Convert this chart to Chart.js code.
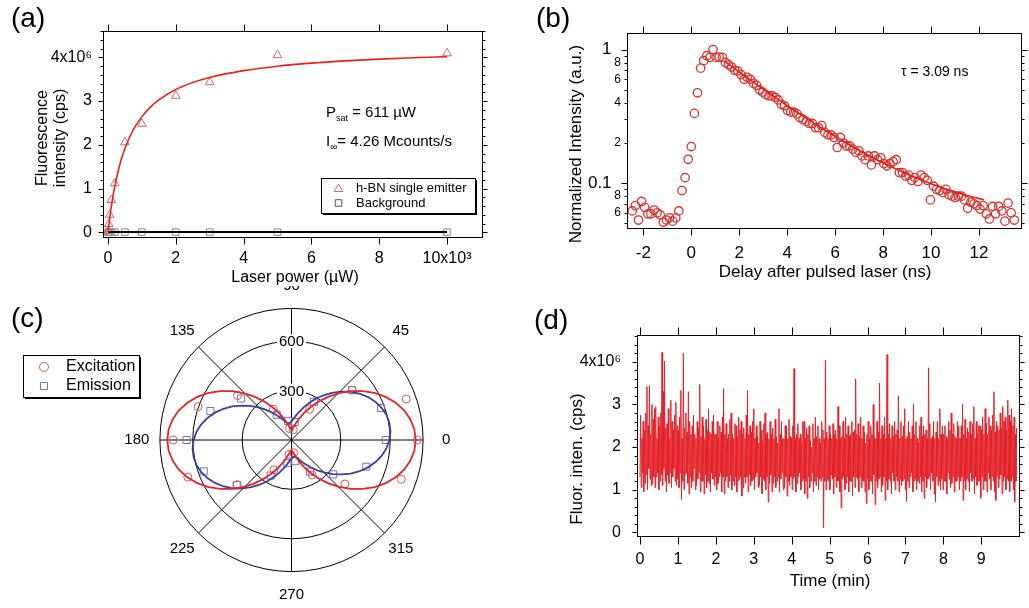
<!DOCTYPE html>
<html>
<head>
<meta charset="utf-8">
<script src="https://cdn.jsdelivr.net/npm/chart.js@4.4.1/dist/chart.umd.min.js"></script>
<style>
  html, body { margin: 0; padding: 0; background: #fff; }
  #wrap { position: relative; width: 1029px; height: 608px; overflow: hidden; }
  #wrap canvas { position: absolute; left: 0; top: 0; }
</style>
</head>
<body>
<div id="wrap">
  <canvas id="polarCanvas" width="1029" height="608"></canvas>
  <canvas id="satCanvas" width="1029" height="608"></canvas>
  <canvas id="decayCanvas" width="1029" height="608"></canvas>
  <canvas id="traceCanvas" width="1029" height="608"></canvas>
</div>
<script>
// ---- (a) saturation curve, counts in 10^6 cps ----
const emitterPower = [0, 20, 50, 100, 200, 500, 1000, 2000, 3000, 5000, 10000];
const emitterMcps = [0.03, 0.19, 0.40, 0.74, 1.12, 2.06, 2.48, 3.12, 3.43, 4.05, 4.09];
const backgroundPower = [0, 20, 50, 100, 200, 500, 1000, 2000, 3000, 5000, 10000];
const backgroundMcps = [0, 0, 0.005, 0.005, 0.005, 0.005, 0.005, 0.005, 0.005, 0.005, 0.005];
const satFitPower = [0, 10, 25, 50, 75, 100, 150, 200, 300, 400, 500, 650, 800, 1000, 1250, 1500,
  2000, 2500, 3000, 4000, 5000, 6000, 7000, 8000, 9000, 10000];
const pSat = 611;     // µW
const iInf = 4.26;    // Mcounts/s
const satXTicks = [0, 2000, 4000, 6000, 8000, 10000];
const satYTicks = [0, 1, 2, 3, 4];

// ---- (b) lifetime decay ----
const decayStart = -2.46;   // ns, first bin
const decayStep = 0.1295;   // ns per bin
const decayCounts = [
  0.062, 0.068, 0.053, 0.073, 0.066, 0.059, 0.059, 0.063, 0.060, 0.058,
  0.051, 0.053, 0.055, 0.052, 0.055, 0.062, 0.088, 0.110, 0.151, 0.188,
  0.333, 0.475, 0.726, 0.826, 0.900, 0.874, 1.000, 0.874, 0.880, 0.874,
  0.80, 0.77, 0.74, 0.70, 0.69, 0.65, 0.60, 0.62, 0.60, 0.56,
  0.54, 0.50, 0.48, 0.46, 0.45, 0.45, 0.44, 0.42, 0.39, 0.38,
  0.35, 0.34, 0.34, 0.33, 0.31, 0.30, 0.29, 0.28, 0.28, 0.26,
  0.26, 0.27, 0.24, 0.23, 0.23, 0.22, 0.185, 0.22, 0.20, 0.19,
  0.19, 0.18, 0.17, 0.175, 0.16, 0.15, 0.16, 0.137, 0.16, 0.15,
  0.155, 0.14, 0.135, 0.14, 0.145, 0.15, 0.12, 0.12, 0.113, 0.115,
  0.105, 0.11, 0.103, 0.115, 0.11, 0.105, 0.075, 0.095, 0.09, 0.088,
  0.085, 0.09, 0.082, 0.08, 0.078, 0.08, 0.08, 0.075, 0.065, 0.072,
  0.07, 0.068, 0.064, 0.068, 0.059, 0.054, 0.067, 0.059, 0.067, 0.062,
  0.052, 0.071, 0.060, 0.053
];
const decayFitTimes = [1.4, 1.8, 2.2, 2.6, 3, 3.5, 4, 4.5, 5, 5.5, 6, 6.5, 7, 7.5, 8, 8.5,
  9, 9.5, 10, 10.5, 11, 11.5, 12, 12.2];
const tau = 3.09;          // ns
const decayAmp = 1.2;
const decayFloor = 0.052;
const decayXTicks = [-2, 0, 2, 4, 6, 8, 10, 12];
const decayYMajor = [0.1, 1];
const decayYMinor = [0.05, 0.06, 0.07, 0.08, 0.09, 0.2, 0.3, 0.4, 0.5, 0.6, 0.7, 0.8, 0.9];
const decayYLabels = { 0.06: '6', 0.08: '8', 0.1: '0.1  ', 0.2: '2', 0.4: '4', 0.6: '6', 0.8: '8', 1: '1  ' };

// ---- (c) polarization, angle in degrees ----
const polAngles = [0, 20, 40, 60, 80, 100, 120, 140, 160, 180, 200, 220, 240, 260, 280, 300, 320, 340];
const excitationR = [765, 742, 480, 220, 64, 72, 220, 428, 604, 719, 671, 430, 213, 90, 80, 250, 424, 710];
const emissionR = [573, 579, 481, 273, 113, 120, 180, 400, 525, 638, 568, 435, 254, 145, 133, 226, 331, 484];
const polFitStep = 5;
const excitationFitR = [
  755, 750, 734, 709, 674, 632, 583, 528, 470, 410, 350, 292, 238, 188, 146, 111, 86, 70,
  65, 70, 86, 111, 146, 188, 238, 292, 350, 410, 470, 528, 583, 632, 674, 709, 734, 750,
  755, 750, 734, 709, 674, 632, 583, 528, 470, 410, 350, 292, 238, 188, 146, 111, 86, 70,
  65, 70, 86, 111, 146, 188, 238, 292, 350, 410, 470, 528, 583, 632, 674, 709, 734, 750
];
const emissionFitR = [
  595, 604, 604, 598, 583, 562, 535, 502, 465, 424, 381, 338, 295, 253, 215, 181, 153, 130,
  115, 106, 106, 112, 127, 148, 175, 208, 245, 286, 329, 372, 416, 457, 495, 529, 557, 580,
  595, 604, 604, 598, 583, 562, 535, 502, 465, 424, 381, 338, 295, 253, 215, 181, 153, 130,
  115, 106, 106, 112, 127, 148, 175, 208, 245, 286, 329, 372, 416, 457, 495, 529, 557, 580
];
const polRings = [300, 600, 800];
const polRingLabels = [300, 600];
const polSpokes = [0, 45, 90, 135, 180, 225, 270, 315];
const polLabelR = 940;

// ---- (d) intensity trace, 10^6 cps, one row per minute ----
const traceStep = 0.01658;   // min per bin
const traceMcps = [
  1.3,2.75, 1.05,2.2, 1.4,2.6, 0.95,2.4, 1.15,2.8, 1.35,3.42, 1.0,2.5, 1.5,3.44, 1.25,2.3, 1.1,3.0,
  1.15,2.65, 1.3,2.9, 1.05,2.95, 1.3,2.2, 1.4,2.7, 1.0,2.5, 1.2,2.8, 1.35,4.22, 1.1,3.3, 1.5,4.02,
  1.2,2.45, 0.95,2.55, 1.35,2.9, 1.15,2.2, 1.4,3.1, 1.05,2.6, 1.3,2.4, 1.5,2.75, 1.2,3.05, 1.1,2.5,

  1.25,2.4, 1.05,2.7, 1.4,3.33, 0.77,2.2, 1.2,4.2, 1.0,2.45, 1.35,2.8, 1.4,2.35, 1.15,3.3, 0.9,2.6,
  1.3,2.3, 1.05,2.5, 1.2,2.75, 1.5,2.3, 1.0,2.2, 1.1,2.6, 1.25,2.45, 1.4,3.47, 0.95,2.25, 1.2,2.7,
  1.2,2.5, 0.9,2.2, 1.35,2.65, 1.05,2.4, 1.2,2.9, 1.15,2.35, 0.95,2.3, 1.4,2.6, 1.25,2.75, 1.1,2.3,

  1.3,2.3, 1.0,2.6, 1.15,2.2, 1.3,2.5, 1.4,2.35, 0.95,2.7, 1.3,3.37, 0.9,2.3, 1.2,2.55, 1.3,2.2,
  1.05,2.3, 1.2,2.65, 1.35,2.8, 1.0,2.3, 1.2,2.2, 1.1,2.55, 1.3,2.5, 0.95,2.25, 1.2,2.7, 1.25,2.4,
  1.3,2.6, 0.85,2.3, 1.05,2.45, 1.3,2.2, 1.15,2.75, 1.3,3.33, 0.95,2.3, 1.35,2.5, 1.1,2.35, 1.2,2.6,

  1.25,2.9, 1.0,2.2, 1.3,2.5, 1.4,2.25, 1.05,2.1, 1.1,2.6, 1.3,2.4, 0.9,2.15, 1.25,2.55, 1.2,2.8,
  1.0,2.3, 1.3,2.35, 0.71,2.2, 1.15,2.6, 1.35,2.3, 0.95,2.45, 1.15,2.2, 1.3,2.65, 1.05,2.25, 1.2,2.1,
  1.3,2.9, 0.95,2.3, 1.25,2.6, 1.4,2.2, 1.0,2.2, 1.05,2.5, 1.3,2.5, 0.85,2.2, 1.2,2.65, 1.1,2.25,

  1.3,2.2, 1.0,2.5, 1.25,3.84, 1.3,2.2, 0.95,2.3, 1.15,2.55, 1.3,2.2, 1.4,2.3, 1.0,2.1, 1.2,2.6,
  1.25,2.6, 0.9,2.2, 1.2,2.45, 0.8,2.3, 1.3,2.5, 1.05,2.15, 1.2,2.0, 1.4,2.55, 0.95,2.2, 1.2,2.7,
  1.1,2.25, 1.3,2.5, 1.0,2.2, 1.25,2.1, 1.2,2.6, 1.3,2.4, 0.11,2.2, 1.2,4.04, 1.0,2.35, 1.25,2.2,

  1.2,2.5, 1.0,2.3, 1.35,2.2, 1.25,2.55, 0.9,2.3, 1.3,2.4, 1.05,2.2, 1.2,2.95, 1.2,2.5, 0.95,2.2,
  0.57,2.25, 1.25,2.6, 1.3,2.2, 1.0,2.7, 1.15,2.3, 1.3,2.5, 0.95,2.25, 1.2,2.3, 1.2,2.6, 0.85,2.35,
  1.3,2.4, 1.05,3.6, 1.3,2.3, 1.25,2.55, 0.95,2.25, 1.3,2.7, 1.05,2.2, 1.2,2.5, 1.2,2.35, 0.95,2.1,

  0.68,2.3, 1.25,2.6, 1.0,2.2, 1.2,2.5, 1.2,2.3, 0.9,3.0, 1.35,2.25, 0.65,2.2, 1.2,2.6, 1.05,2.35,
  1.25,3.5, 1.3,2.2, 0.95,2.5, 1.1,2.3, 1.3,2.7, 0.75,2.2, 1.2,4.17, 1.0,2.3, 1.25,2.55, 1.2,2.2,
  0.9,2.5, 1.4,2.25, 1.2,2.6, 1.0,2.3, 1.3,2.4, 1.2,3.2, 0.95,2.2, 1.25,2.6, 1.1,2.25, 1.2,2.5,

  1.25,2.9, 1.0,2.2, 0.72,2.25, 1.2,2.6, 1.05,2.35, 1.3,2.2, 1.4,2.5, 0.95,3.0, 1.2,2.3, 1.25,2.6,
  1.0,2.2, 1.2,2.1, 1.15,2.5, 1.3,2.7, 0.95,2.25, 1.2,2.5, 0.8,2.3, 1.3,2.4, 1.05,2.2, 1.25,3.86,
  1.3,2.55, 1.0,2.2, 1.4,2.25, 1.2,2.6, 0.9,2.2, 0.71,2.35, 1.3,2.6, 1.1,2.2, 1.2,2.9, 1.0,2.3,

  1.25,2.5, 1.0,2.3, 1.2,2.5, 1.2,2.25, 0.9,2.2, 1.4,2.6, 1.25,2.4, 1.05,2.8, 1.15,2.3, 1.3,2.55,
  0.95,2.25, 1.2,2.2, 1.2,2.6, 1.3,2.5, 1.0,2.2, 1.2,2.5, 1.3,3.0, 0.75,2.3, 1.2,2.65, 1.0,2.2,
  1.25,2.45, 1.2,2.35, 0.95,2.6, 1.4,2.3, 1.2,2.55, 1.25,2.95, 0.9,2.2, 1.3,2.6, 1.1,2.3, 1.2,2.5,

  1.2,2.5, 0.8,2.4, 1.3,2.7, 1.0,2.3, 1.2,2.9, 1.2,2.55, 0.95,2.3, 1.4,2.7, 1.25,2.5, 1.0,2.4,
  1.3,2.75, 1.2,3.3, 0.95,2.35, 0.75,2.6, 1.3,2.5, 1.05,2.4, 1.25,2.8, 1.35,2.45, 0.9,2.95, 1.2,2.6,
  1.3,2.7, 1.0,2.4, 1.25,3.1, 1.2,2.75, 0.95,2.6, 1.2,2.9, 1.3,2.5, 1.0,2.7, 0.71,2.3, 1.2,2.45
];
const traceXTicks = [0, 1, 2, 3, 4, 5, 6, 7, 8, 9];
const traceYTicks = [0, 1, 2, 3, 4];

// ---------------------------------------------------------------
const FONT = '"Liberation Sans", Arial, Helvetica, sans-serif';
Chart.defaults.font.family = FONT;
Chart.defaults.color = '#000';
const W = 1029, H = 608;
const AXIS_W = 60, AXIS_H = 40;

function fixSize(px) {
  return scale => { if (scale.isHorizontal()) scale.height = px; else scale.width = px; };
}
function setTicks(values) {
  return scale => { scale.ticks = values.map(v => ({ value: v })); };
}
function frameLayout(f) {
  return { padding: { left: f.left - AXIS_W, top: f.top, right: W - f.right, bottom: H - f.bottom - AXIS_H } };
}
function minorSteps(from, to, step, skip) {
  const out = [];
  for (let v = from; v <= to + 1e-9; v += step) {
    const r = Math.round(v * 1000) / 1000;
    if (!skip.includes(r)) out.push(r);
  }
  return out;
}
function marks(major, majorLen, minor, minorLen) {
  return major.map(v => [v, majorLen]).concat((minor || []).map(v => [v, minorLen]));
}

// box frame plus outward ticks on all four sides
function frameTicks(spec) {
  return {
    id: 'frameTicks',
    afterDraw(chart) {
      const { ctx, chartArea: a } = chart;
      const xs = chart.scales.x, ys = chart.scales.y;
      ctx.save();
      ctx.strokeStyle = '#000';
      ctx.lineWidth = 1;
      const l = Math.round(a.left) + 0.5, t = Math.round(a.top) + 0.5;
      const r = Math.round(a.right) + 0.5, b = Math.round(a.bottom) + 0.5;
      ctx.strokeRect(l, t, r - l, b - t);
      ctx.beginPath();
      spec.x.forEach(([v, len]) => {
        const p = Math.round(xs.getPixelForValue(v)) + 0.5;
        ctx.moveTo(p, b); ctx.lineTo(p, b + len);
        ctx.moveTo(p, t); ctx.lineTo(p, t - len);
      });
      spec.y.forEach(([v, len]) => {
        const p = Math.round(ys.getPixelForValue(v)) + 0.5;
        ctx.moveTo(l, p); ctx.lineTo(l - len, p);
        ctx.moveTo(r, p); ctx.lineTo(r + len, p);
      });
      ctx.stroke();
      ctx.restore();
    }
  };
}

function text(ctx, s, x, y, size, align, rotate) {
  ctx.save();
  ctx.font = size + 'px ' + FONT;
  ctx.fillStyle = '#000';
  ctx.textAlign = align || 'left';
  ctx.textBaseline = 'middle';
  ctx.translate(x, y);
  if (rotate) ctx.rotate(-Math.PI / 2);
  ctx.fillText(s, 0, 0);
  ctx.restore();
}
// runs of [string, size, baseline shift]
function richText(ctx, x, y, parts) {
  ctx.save();
  ctx.fillStyle = '#000';
  ctx.textAlign = 'left';
  ctx.textBaseline = 'alphabetic';
  let cx = x;
  parts.forEach(([s, size, dy]) => {
    ctx.font = size + 'px ' + FONT;
    ctx.fillText(s, cx, y + dy);
    cx += ctx.measureText(s).width;
  });
  ctx.restore();
}
function legendBox(ctx, x, y, w, h) {
  ctx.save();
  ctx.fillStyle = '#000';
  ctx.fillRect(x + 2, y + 2, w, h);
  ctx.fillStyle = '#fff';
  ctx.fillRect(x, y, w, h);
  ctx.strokeStyle = '#000';
  ctx.lineWidth = 1;
  ctx.strokeRect(x + 0.5, y + 0.5, w, h);
  ctx.restore();
}
function marker(ctx, style, radius, color, bw, x, y) {
  ctx.save();
  ctx.strokeStyle = color;
  ctx.fillStyle = 'rgba(0,0,0,0)';
  ctx.lineWidth = bw;
  Chart.helpers.drawPoint(ctx, { pointStyle: style, radius: radius, borderWidth: bw, rotation: 0 }, x, y);
  ctx.restore();
}

const linearAxis = (min, max, ticks, fmt, pad, size, fontSize) => ({
  type: 'linear', min, max, bounds: 'data',
  afterBuildTicks: setTicks(ticks),
  afterFit: fixSize(size),
  grid: { display: false, drawTicks: false },
  border: { display: false },
  ticks: { autoSkip: false, maxRotation: 0, padding: pad, font: { size: fontSize || 16 }, callback: fmt }
});
const baseOptions = {
  responsive: false,
  animation: false,
  devicePixelRatio: 1,
  plugins: { legend: { display: false }, tooltip: { enabled: false } }
};
const xy = (xs, ys) => xs.map((x, i) => ({ x: x, y: ys[i] }));

// ---------------- (a) ----------------
const satFrame = { left: 103, right: 482, top: 31, bottom: 237 };
const satFit = satFitPower.map(p => ({ x: p, y: iInf * p / (p + pSat) }));
const satMinor = minorSteps(0, 4.6, 0.2, satYTicks);

new Chart(document.getElementById('satCanvas'), {
  type: 'scatter',
  data: {
    datasets: [
      { data: satFit, showLine: true, borderColor: '#e2261d', borderWidth: 1.6, pointRadius: 0,
        cubicInterpolationMode: 'monotone' },
      { data: xy(backgroundPower, backgroundMcps), showLine: true, borderColor: '#000', borderWidth: 2,
        pointRadius: 0 },
      { data: xy(emitterPower, emitterMcps), pointStyle: 'triangle', pointRadius: 5, borderWidth: 1,
        pointBorderColor: '#d46a5e', pointBackgroundColor: 'rgba(0,0,0,0)' },
      { data: xy(backgroundPower, backgroundMcps), pointStyle: 'rect', pointRadius: 4.6, borderWidth: 1,
        pointBorderColor: '#8a8a8a', pointBackgroundColor: 'rgba(0,0,0,0)' }
    ]
  },
  options: Object.assign({}, baseOptions, {
    layout: frameLayout(satFrame),
    scales: {
      x: linearAxis(-147.5, 11032, satXTicks, v => v === 10000 ? '10x10³' : String(v / 1000), 12, AXIS_H),
      y: linearAxis(-0.107, 4.601, satYTicks, v => v === 4 ? '4x10⁶' : String(v), 11, AXIS_W)
    }
  }),
  plugins: [
    frameTicks({ x: marks(satXTicks, 7), y: marks(satYTicks, 5, satMinor, 3) }),
    {
      id: 'satNotes',
      afterDraw(chart) {
        const ctx = chart.ctx;
        // title strip sits over the polar "90" label below it
        ctx.fillStyle = '#fff';
        ctx.fillRect(230, 268, 130, 18);
        text(ctx, '(a)', 11, 19, 28);
        text(ctx, 'Fluorescence', 43, 138, 16, 'center', true);
        text(ctx, 'intensity (cps)', 61, 138, 16, 'center', true);
        text(ctx, 'Laser power (µW)', 295, 278, 16, 'center');
        richText(ctx, 326, 117, [['P', 15, 0], ['sat', 9, 4], [' = 611 µW', 15, 0]]);
        richText(ctx, 326, 146, [['I', 15, 0], ['∞', 10, 4], ['= 4.26 Mcounts/s', 15, 0]]);
        legendBox(ctx, 321, 178, 154, 35);
        marker(ctx, 'triangle', 5, '#d46a5e', 1, 338.5, 189);
        marker(ctx, 'rect', 4.6, '#555', 1, 338.5, 203);
        text(ctx, 'h-BN single emitter', 356, 188, 13);
        text(ctx, 'Background', 356, 203, 13);
      }
    }
  ]
});

// ---------------- (b) ----------------
const decayFrame = { left: 627, right: 1021, top: 33, bottom: 228 };
const decayPoints = decayCounts.map((c, i) => ({ x: decayStart + i * decayStep, y: c }));
const decayFit = decayFitTimes.map(t => ({ x: t, y: decayAmp * Math.exp(-t / tau) + decayFloor }));

new Chart(document.getElementById('decayCanvas'), {
  type: 'scatter',
  data: {
    datasets: [
      { data: decayFit, showLine: true, borderColor: '#e0201a', borderWidth: 1.6, pointRadius: 0,
        cubicInterpolationMode: 'monotone' },
      { data: decayPoints, pointStyle: 'circle', pointRadius: 4.2, borderWidth: 1.3,
        pointBorderColor: '#d8342e', pointBackgroundColor: 'rgba(0,0,0,0)' }
    ]
  },
  options: Object.assign({}, baseOptions, {
    layout: frameLayout(decayFrame),
    scales: {
      x: linearAxis(-2.68, 13.75, decayXTicks, v => String(v), 15, AXIS_H, 17),
      y: {
        type: 'logarithmic', min: 0.04621, max: 1.331, bounds: 'data',
        afterBuildTicks: setTicks(decayYMajor.concat(decayYMinor)),
        afterFit: fixSize(AXIS_W),
        grid: { display: false, drawTicks: false },
        border: { display: false },
        ticks: {
          autoSkip: false, padding: 6,
          font: c => ({ size: c.tick && decayYMajor.includes(c.tick.value) ? 17 : 12 }),
          callback: v => decayYLabels[v] || ''
        }
      }
    }
  }),
  plugins: [
    frameTicks({ x: marks(decayXTicks, 7), y: marks(decayYMajor, 6, decayYMinor, 3) }),
    {
      id: 'decayNotes',
      afterDraw(chart) {
        const ctx = chart.ctx;
        text(ctx, '(b)', 536, 19, 28);
        text(ctx, 'Normalized Intensity (a.u.)', 576, 144, 17, 'center', true);
        text(ctx, 'Delay after pulsed laser (ns)', 825, 272, 17, 'center');
        text(ctx, 'τ = 3.09 ns', 901, 72, 14);
      }
    }
  ]
});

// ---------------- (c) ----------------
const toXY = (angles, radii) => radii.map((r, i) => ({
  x: r * Math.cos(angles[i] * Math.PI / 180),
  y: r * Math.sin(angles[i] * Math.PI / 180)
}));
const fitAngles = excitationFitR.map((_, i) => i * polFitStep);
const closeLoop = pts => pts.concat([pts[0]]);

const polarGrid = {
  id: 'polarGrid',
  beforeDatasetsDraw(chart) {
    const ctx = chart.ctx, xs = chart.scales.x, ys = chart.scales.y;
    const cx = xs.getPixelForValue(0), cy = ys.getPixelForValue(0);
    const k = (xs.getPixelForValue(1000) - cx) / 1000;
    const rMax = Math.max(...polRings) * k;
    ctx.save();
    ctx.strokeStyle = '#000';
    ctx.lineWidth = 1;
    polRings.forEach(r => { ctx.beginPath(); ctx.arc(cx, cy, r * k, 0, 2 * Math.PI); ctx.stroke(); });
    ctx.beginPath();
    polSpokes.forEach(a => {
      const t = a * Math.PI / 180;
      ctx.moveTo(cx, cy);
      ctx.lineTo(cx + rMax * Math.cos(t), cy - rMax * Math.sin(t));
    });
    ctx.stroke();
    ctx.font = '15px ' + FONT;
    ctx.textAlign = 'center';
    ctx.textBaseline = 'middle';
    polRingLabels.forEach(r => {
      const y = cy - r * k, s = String(r);
      const w = ctx.measureText(s).width + 4;
      ctx.fillStyle = '#fff';
      ctx.fillRect(cx - w / 2, y - 7, w, 14);
      ctx.fillStyle = '#000';
      ctx.fillText(s, cx, y + 1);
    });
    polSpokes.forEach(a => {
      const t = a * Math.PI / 180;
      ctx.fillText(String(a), cx + polLabelR * k * Math.cos(t), cy - polLabelR * k * Math.sin(t));
    });
    ctx.restore();
  }
};

new Chart(document.getElementById('polarCanvas'), {
  type: 'scatter',
  data: {
    datasets: [
      { data: closeLoop(toXY(fitAngles, excitationFitR)), showLine: true, borderColor: '#e0262a',
        borderWidth: 1.8, pointRadius: 0 },
      { data: closeLoop(toXY(fitAngles, emissionFitR)), showLine: true, borderColor: '#3a3f9e',
        borderWidth: 1.8, pointRadius: 0 },
      { data: toXY(polAngles, excitationR), pointStyle: 'circle', pointRadius: 4, borderWidth: 1,
        pointBorderColor: '#dc5a55', pointBackgroundColor: 'rgba(0,0,0,0)' },
      { data: toXY(polAngles, emissionR), pointStyle: 'rect', pointRadius: 5, borderWidth: 1,
        pointBorderColor: '#6d72b8', pointBackgroundColor: 'rgba(0,0,0,0)' }
    ]
  },
  options: Object.assign({}, baseOptions, {
    layout: { padding: { left: 127, right: 573, top: 278, bottom: 0 } },
    scales: {
      x: { type: 'linear', min: -1000, max: 1000, display: false },
      y: { type: 'linear', min: -1003, max: 1003, display: false }
    }
  }),
  plugins: [
    polarGrid,
    {
      id: 'polarNotes',
      afterDraw(chart) {
        const ctx = chart.ctx;
        text(ctx, '(c)', 11, 319, 28);
        legendBox(ctx, 23, 355, 116, 42);
        marker(ctx, 'circle', 4.5, '#dc5a55', 1, 44, 367);
        marker(ctx, 'rect', 5, '#6d72b8', 1, 44, 386);
        text(ctx, 'Excitation', 66, 367, 16);
        text(ctx, 'Emission', 66, 386, 16);
      }
    }
  ]
});

// ---------------- (d) ----------------
const traceFrame = { left: 637, right: 1019, top: 335, bottom: 536 };
const tracePoints = traceMcps.map((v, i) => ({ x: i * traceStep, y: v }));
const traceMinor = minorSteps(0, 4.6, 0.2, traceYTicks);

new Chart(document.getElementById('traceCanvas'), {
  type: 'scatter',
  data: {
    datasets: [
      { data: tracePoints, showLine: true, borderColor: '#e3232a', borderWidth: 1, pointRadius: 0 }
    ]
  },
  options: Object.assign({}, baseOptions, {
    layout: frameLayout(traceFrame),
    scales: {
      x: linearAxis(-0.079, 9.995, traceXTicks, v => String(v), 14, AXIS_H),
      y: linearAxis(-0.086, 4.63, traceYTicks, v => v === 4 ? '4x10⁶' : String(v), 16, AXIS_W)
    }
  }),
  plugins: [
    frameTicks({ x: marks(traceXTicks, 8), y: marks(traceYTicks, 5, traceMinor, 3) }),
    {
      id: 'traceNotes',
      afterDraw(chart) {
        const ctx = chart.ctx;
        text(ctx, '(d)', 534, 321, 28);
        text(ctx, 'Fluor. inten. (cps)', 577, 459, 17, 'center', true);
        text(ctx, 'Time (min)', 830, 581, 17, 'center');
      }
    }
  ]
});
</script>
</body>
</html>
